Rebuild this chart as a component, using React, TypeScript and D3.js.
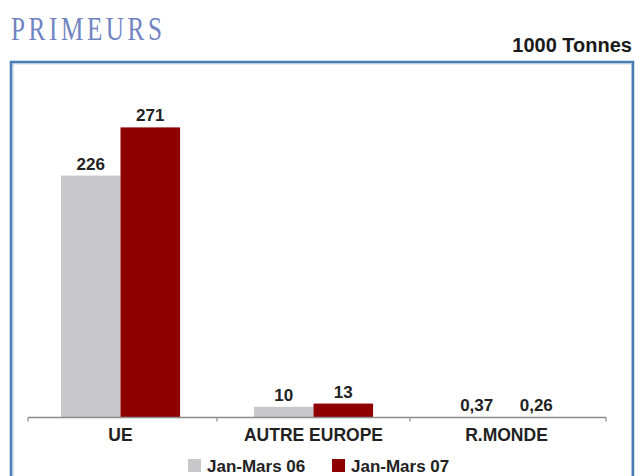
import React from "react";
import * as d3 from "d3";

const categories = ["UE", "AUTRE EUROPE", "R.MONDE"];
const seriesNames = ["Jan-Mars 06", "Jan-Mars 07"];
const values06 = [226, 10, 0.37];
const values07 = [271, 13, 0.26];
const labels06 = ["226", "10", "0,37"];
const labels07 = ["271", "13", "0,26"];
const colors = ["#c8c8ca", "#8f0000"];

const W = 635;
const H = 476;
const font = "'Liberation Sans', Arial, sans-serif";

export default function App() {
  const baseY = 417.5;
  const y = d3.scaleLinear().domain([0, 300]).range([baseY, baseY - 300 * 1.0705]);
  const x0 = d3.scaleBand<string>().domain(categories).range([24, 603]).paddingInner(0).paddingOuter(0);
  const x1 = d3.scaleBand<string>().domain(seriesNames).range([0, x0.bandwidth()]).paddingInner(0).paddingOuter(0.62);
  const series = [
    { name: seriesNames[0], values: values06, labels: labels06, color: colors[0] },
    { name: seriesNames[1], values: values07, labels: labels07, color: colors[1] },
  ];
  const boundaries = categories.slice(1).map((c) => x0(c) as number);

  return (
    <svg width={W} height={H} style={{ position: "absolute", left: 0, top: 0, background: "#fff" }}>
      <g transform="translate(11,39.5) scale(0.74,1)">
        <text x={0} y={0} fontFamily="'Liberation Serif', 'DejaVu Serif', serif" fontSize={34} fill="#7083c2"
          textLength={204} lengthAdjust="spacing">PRIMEURS</text>
      </g>
      <text x={632} y={51.5} textAnchor="end" fontFamily={font} fontWeight="bold" fontSize={20} fill="#1a1a1a">1000 Tonnes</text>
      {/* frame */}
      <path d={`M11,${H + 5} V62 H633 V${H + 5}`} fill="none" stroke="#4a7db3" strokeWidth={2.5} />
      <path d={`M13,${H + 5} V63.8 H631.5 V${H + 5}`} fill="none" stroke="#a9c4de" strokeWidth={1} />
      {/* bars */}
      {series.map((s) =>
        categories.map((c, i) => {
          const bx = (x0(c) as number) + (x1(s.name) as number);
          const by = y(s.values[i]);
          return (
            <g key={s.name + c}>
              <rect x={bx} y={by} width={x1.bandwidth()} height={baseY - by} fill={s.color} />
              <text x={bx + x1.bandwidth() / 2} y={by - 6} textAnchor="middle" fontFamily={font} fontWeight="bold"
                fontSize={17} fill="#222">{s.labels[i]}</text>
            </g>
          );
        })
      )}
      {/* axis */}
      <line x1={28} x2={606} y1={baseY} y2={baseY} stroke="#8c8c8c" strokeWidth={1.5} />
      {[28, ...boundaries, 606].map((t, i) => (
        <line key={i} x1={t} x2={t} y1={baseY} y2={baseY + 4} stroke="#8c8c8c" strokeWidth={1.2} />
      ))}
      {categories.map((c) => (
        <text key={c} x={(x0(c) as number) + x0.bandwidth() / 2} y={440.5} textAnchor="middle" fontFamily={font}
          fontWeight="bold" fontSize={17.5} fill="#222">{c}</text>
      ))}
      {/* legend */}
      {series.map((s, i) => {
        const lx = i === 0 ? 188 : 332;
        return (
          <g key={s.name}>
            <rect x={lx} y={459} width={13} height={13} fill={s.color} />
            <text x={lx + 19} y={471.5} fontFamily={font} fontWeight="bold" fontSize={17} fill="#222">{s.name}</text>
          </g>
        );
      })}
    </svg>
  );
}
